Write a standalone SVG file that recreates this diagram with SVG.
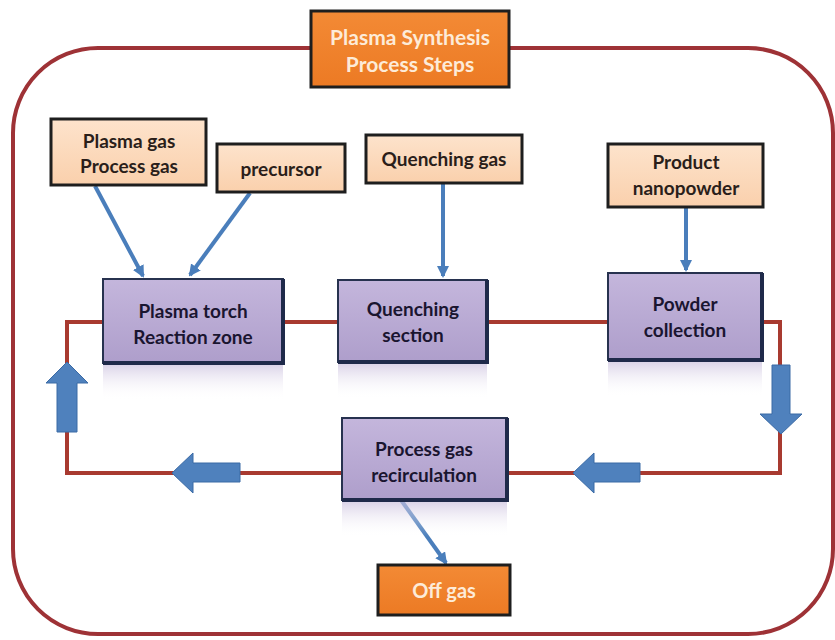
<svg xmlns="http://www.w3.org/2000/svg" width="835" height="640" viewBox="0 0 835 640">
  <defs>
    <linearGradient id="inGrad" x1="0" y1="0" x2="0" y2="1">
      <stop offset="0" stop-color="#FDE3CC"/>
      <stop offset="1" stop-color="#FAD0AC"/>
    </linearGradient>
    <linearGradient id="stepGrad" x1="0" y1="0" x2="0" y2="1">
      <stop offset="0" stop-color="#C4B6DC"/>
      <stop offset="1" stop-color="#AE9ECB"/>
    </linearGradient>
    <linearGradient id="reflGrad" x1="0" y1="0" x2="0" y2="1">
      <stop offset="0" stop-color="#C9BEDD" stop-opacity="0.7"/>
      <stop offset="1" stop-color="#FFFFFF" stop-opacity="0"/>
    </linearGradient>
    <linearGradient id="outGrad" x1="0" y1="0" x2="0" y2="1">
      <stop offset="0" stop-color="#F38A35"/>
      <stop offset="1" stop-color="#EC7A24"/>
    </linearGradient>
    <marker id="tip" markerWidth="3" markerHeight="3" refX="2.5" refY="1.5" orient="auto" markerUnits="strokeWidth">
      <path d="M0,0 L3,1.5 L0,3 Z" fill="#4A7EBB"/>
    </marker>
  </defs>
  <style>
    .frame { fill: none; stroke: #9E3236; stroke-width: 4; }
    .loop { fill: none; stroke: #A83A30; stroke-width: 4; }
    .inbox { fill: url(#inGrad); stroke: #1E1E1E; stroke-width: 3; }
    .step { fill: url(#stepGrad); stroke: #27324F; stroke-width: 2; }
    .stepEdge { fill: none; stroke: #1F2A4A; stroke-width: 4; }
    .refl { fill: url(#reflGrad); }
    .outbox { fill: url(#outGrad); stroke: #1E1E1E; stroke-width: 3; }
    .feed { stroke: #4A7EBB; stroke-width: 4; fill: none; marker-end: url(#tip); }
    .block { fill: #4F81BD; stroke: #3A6AA5; stroke-width: 1; }
    text { font-family: Lato, "Open Sans", "Liberation Sans", sans-serif; font-weight: bold; text-anchor: middle; }
    .lbl { font-size: 19px; fill: #2A1E1A; }
    .stepLbl { font-size: 19px; fill: #1A1530; }
    .title { font-size: 21px; fill: #FDEBD8; }
    .outLbl { font-size: 20px; fill: #FDEBD8; }
  </style>

  <!-- outer process boundary -->
  <rect class="frame" x="13" y="48" width="820" height="586" rx="85" ry="85"/>

  <!-- gas loop piping and flow markers -->
  <g id="connectors">
    <polyline class="loop" points="103,322 67,322 67,473 342,473"/>
    <line class="loop" x1="283" y1="322" x2="338" y2="322"/>
    <line class="loop" x1="487" y1="322" x2="608" y2="322"/>
    <polyline class="loop" points="762,322 780,322 780,473 507,473"/>

    <line class="feed" x1="95" y1="186" x2="143" y2="276"/>
    <line class="feed" x1="250" y1="193" x2="190" y2="275"/>
    <line class="feed" x1="443" y1="184" x2="443" y2="276"/>
    <line class="feed" x1="686" y1="208" x2="686" y2="270"/>
    <line class="feed" x1="401" y1="500" x2="446" y2="563"/>

    <!-- flow direction block arrows -->
    <polygon class="block" points="772,365 790,365 790,414 802,414 781,434 760,414 772,414"/>
    <polygon class="block" points="640,463 640,482 594,482 594,493 573,473 594,453 594,463"/>
    <polygon class="block" points="240,463 240,482 193,482 193,493 172,473 193,453 193,463"/>
    <polygon class="block" points="57,432 77,432 77,383 88,383 67,362 46,383 57,383"/>
  </g>

  <g id="title">
    <rect class="outbox" x="311" y="11" width="198" height="76"/>
    <text class="title" x="410" y="45">Plasma Synthesis</text>
    <text class="title" x="410" y="72">Process Steps</text>
  </g>

  <g id="plasma-gas">
    <rect class="inbox" x="51" y="119" width="155" height="66"/>
    <text class="lbl" x="129" y="148">Plasma gas</text>
    <text class="lbl" x="129" y="173">Process gas</text>
  </g>

  <g id="precursor">
    <rect class="inbox" x="217" y="144" width="128" height="48"/>
    <text class="lbl" x="281" y="176">precursor</text>
  </g>

  <g id="quenching-gas">
    <rect class="inbox" x="366" y="135" width="156" height="48"/>
    <text class="lbl" x="444" y="166">Quenching gas</text>
  </g>

  <g id="product">
    <rect class="inbox" x="608" y="144" width="155" height="63"/>
    <text class="lbl" x="686" y="169">Product</text>
    <text class="lbl" x="686" y="195">nanopowder</text>
  </g>

  <g id="plasma-torch">
    <rect class="refl" x="103" y="364" width="180" height="36"/>
    <rect class="step" x="103" y="279" width="180" height="84"/>
    <polyline class="stepEdge" points="103,363 283,363 283,279"/>
    <text class="stepLbl" x="193" y="318">Plasma torch</text>
    <text class="stepLbl" x="193" y="344">Reaction zone</text>
  </g>

  <g id="quenching-section">
    <rect class="refl" x="338" y="363" width="149" height="36"/>
    <rect class="step" x="338" y="280" width="149" height="82"/>
    <polyline class="stepEdge" points="338,362 487,362 487,280"/>
    <text class="stepLbl" x="413" y="316">Quenching</text>
    <text class="stepLbl" x="413" y="342">section</text>
  </g>

  <g id="powder-collection">
    <rect class="refl" x="608" y="361" width="154" height="36"/>
    <rect class="step" x="608" y="273" width="154" height="87"/>
    <polyline class="stepEdge" points="608,360 762,360 762,273"/>
    <text class="stepLbl" x="685" y="311">Powder</text>
    <text class="stepLbl" x="685" y="337">collection</text>
  </g>

  <g id="recirculation">
    <rect class="refl" x="342" y="501" width="165" height="36"/>
    <rect class="step" x="342" y="418" width="165" height="82"/>
    <polyline class="stepEdge" points="342,500 507,500 507,418"/>
    <text class="stepLbl" x="424" y="456">Process gas</text>
    <text class="stepLbl" x="424" y="482">recirculation</text>
  </g>

  <g id="off-gas">
    <rect class="outbox" x="378" y="565" width="132" height="50"/>
    <text class="outLbl" x="444" y="598">Off gas</text>
  </g>
</svg>
